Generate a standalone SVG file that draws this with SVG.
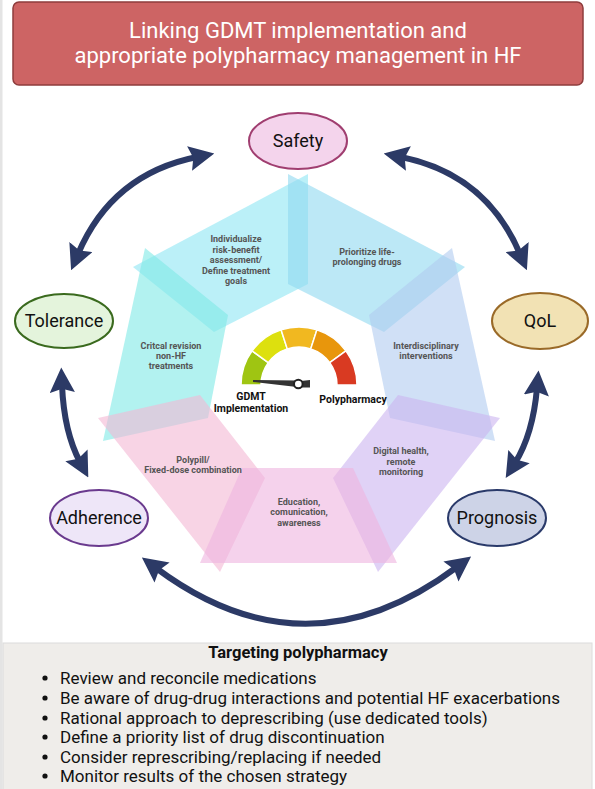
<svg xmlns="http://www.w3.org/2000/svg" width="595" height="789" viewBox="0 0 595 789">
<defs>
<marker id="ah" viewBox="0 0 10 10" refX="3" refY="5" markerWidth="4.2" markerHeight="4.2" orient="auto-start-reverse" markerUnits="strokeWidth">
<path d="M0,0 L10,5 L0,10 L1.5,5 z" fill="#2c3a66"/>
</marker>
</defs>
<style>
.seg{fill-opacity:0.6;stroke:none}
.lbl{font-family:Roboto,"Liberation Sans",sans-serif;font-weight:bold;font-size:9px;fill:#555;text-anchor:middle}
.node{stroke-width:2}
.ntxt{font-family:Roboto,"Liberation Sans",sans-serif;font-size:18px;fill:#111;text-anchor:middle}
.arr{fill:none;stroke:#2c3a66;stroke-width:6;marker-start:url(#ah);marker-end:url(#ah)}
.gl{font-family:Roboto,"Liberation Sans",sans-serif;font-weight:bold;font-size:10.5px;fill:#111;text-anchor:middle}
.bul{font-family:Roboto,"Liberation Sans",sans-serif;font-size:17px;fill:#111}
</style>
<rect x="0" y="0" width="595" height="789" fill="#ffffff"/>
<rect x="0" y="0" width="2.5" height="789" fill="#e4e4e4"/>

<g id="title">
<rect x="13" y="2" width="570" height="83" rx="6" fill="#cd6464" stroke="#8e3c3c" stroke-width="1.5"/>
<text x="298" y="38" font-family="Roboto,'Liberation Sans',sans-serif" font-size="22" fill="#ffffff" text-anchor="middle">Linking GDMT implementation and</text>
<text x="298" y="63" font-family="Roboto,'Liberation Sans',sans-serif" font-size="22" fill="#ffffff" text-anchor="middle">appropriate polypharmacy management in HF</text>
</g>

<g id="segments">
<polygon id="seg-individualize" class="seg" fill="#8ee6f4" points="133,267 308,174 308,284 214,332"/>
<polygon id="seg-prioritize" class="seg" fill="#90d8f0" points="288,174 465,267 384,332 288,284"/>
<polygon id="seg-critical" class="seg" fill="#7eeae6" points="145,248 228,315 208,418 103,441"/>
<polygon id="seg-interdisciplinary" class="seg" fill="#b0ccf0" points="452,248 369,315 390,418 495,441"/>
<polygon id="seg-polypill" class="seg" fill="#f4b8d4" points="98,418 200,395 265,478 220,572"/>
<polygon id="seg-digital" class="seg" fill="#ccb4f0" points="500,418 398,395 333,478 378,572"/>
<polygon id="seg-education" class="seg" fill="#eeb4e0" points="242,468 353,468 397,563 200,563"/>
<text class="lbl"><tspan x="236" y="242">Individualize</tspan><tspan x="236" y="253">risk-benefit</tspan><tspan x="236" y="263">assessment/</tspan><tspan x="236" y="274">Define treatment</tspan><tspan x="236" y="284">goals</tspan></text>
<text class="lbl"><tspan x="367" y="255">Prioritize life-</tspan><tspan x="367" y="265">prolonging drugs</tspan></text>
<text class="lbl"><tspan x="171" y="349">Critcal revision</tspan><tspan x="171" y="359">non-HF</tspan><tspan x="171" y="369">treatments</tspan></text>
<text class="lbl"><tspan x="426" y="349">Interdisciplinary</tspan><tspan x="426" y="359">interventions</tspan></text>
<text class="lbl"><tspan x="193" y="463">Polypill/</tspan><tspan x="193" y="473">Fixed-dose combination</tspan></text>
<text class="lbl"><tspan x="299" y="505">Education,</tspan><tspan x="299" y="515">comunication,</tspan><tspan x="299" y="526">awareness</tspan></text>
<text class="lbl"><tspan x="401" y="454">Digital health,</tspan><tspan x="401" y="465">remote</tspan><tspan x="401" y="475">monitoring</tspan></text>
</g>

<g id="gauge">
<g stroke="#ffffff" stroke-width="1.5">
<path d="M241,385 A58,58 0 0 1 252.08,350.90 L268.26,362.66 A38,38 0 0 0 261,385 Z" fill="#9fc512"/>
<path d="M252.08,350.90 A58,58 0 0 1 281.08,329.84 L287.26,348.86 A38,38 0 0 0 268.26,362.66 Z" fill="#dde00e"/>
<path d="M281.08,329.84 A58,58 0 0 1 316.92,329.84 L310.74,348.86 A38,38 0 0 0 287.26,348.86 Z" fill="#f1b820"/>
<path d="M316.92,329.84 A58,58 0 0 1 345.92,350.90 L329.74,362.66 A38,38 0 0 0 310.74,348.86 Z" fill="#e8960c"/>
<path d="M345.92,350.90 A58,58 0 0 1 357,385 L337,385 A38,38 0 0 0 329.74,362.66 Z" fill="#d93a22"/>
</g>
<polygon points="253,380 297,380.5 297,387 253,382" fill="#333"/>
<polygon points="301,381 310,380 310,387.5 301,387.5" fill="#333"/>
<circle cx="298.3" cy="384" r="4.3" fill="#ffffff" stroke="#222" stroke-width="2"/>
<text class="gl"><tspan x="251" y="400">GDMT</tspan><tspan x="251" y="412">Implementation</tspan></text>
<text class="gl" x="353" y="403">Polypharmacy</text>
</g>

<g id="connectors">
<path class="arr" d="M78,254 Q112,174 197,157"/>
<path class="arr" d="M520,254 Q486,174 401,157"/>
<path class="arr" d="M62,385 Q64,432 80,462"/>
<path class="arr" d="M537,388 Q533,434 515,463"/>
<path class="arr" d="M156,568 Q306,680 457,567"/>
</g>

<g id="safety">
<ellipse class="node" cx="298" cy="141" rx="49" ry="28" fill="#f4d4ec" stroke="#a03e70"/>
<text class="ntxt" x="298" y="147">Safety</text>
</g>
<g id="tolerance">
<ellipse class="node" cx="64" cy="321" rx="49" ry="27" fill="#e4f4dc" stroke="#3a6a1e"/>
<text class="ntxt" x="64" y="327">Tolerance</text>
</g>
<g id="qol">
<ellipse class="node" cx="540" cy="321" rx="48" ry="28" fill="#f2e2b4" stroke="#9a6a28"/>
<text class="ntxt" x="540" y="327">QoL</text>
</g>
<g id="adherence">
<ellipse class="node" cx="99" cy="518" rx="49" ry="28" fill="#eee6f8" stroke="#6a3a8e"/>
<text class="ntxt" x="99" y="524">Adherence</text>
</g>
<g id="prognosis">
<ellipse class="node" cx="497" cy="518" rx="49" ry="28" fill="#cdd3e7" stroke="#2a3a6a"/>
<text class="ntxt" x="497" y="524">Prognosis</text>
</g>

<g id="targeting">
<rect x="3" y="643" width="589" height="150" fill="#efedea" stroke="#dcdcdc" stroke-width="1"/>
<text x="298" y="658" font-family="Roboto,'Liberation Sans',sans-serif" font-size="16.5" font-weight="bold" fill="#111" text-anchor="middle">Targeting polypharmacy</text>
<g fill="#111">
<circle cx="45" cy="678" r="2.6"/>
<circle cx="45" cy="698" r="2.6"/>
<circle cx="45" cy="718" r="2.6"/>
<circle cx="45" cy="737" r="2.6"/>
<circle cx="45" cy="757" r="2.6"/>
<circle cx="45" cy="776" r="2.6"/>
</g>
<text class="bul" x="60" y="683.5">Review and reconcile medications</text>
<text class="bul" x="60" y="703.5">Be aware of drug-drug interactions and potential HF exacerbations</text>
<text class="bul" x="60" y="723.5">Rational approach to deprescribing (use dedicated tools)</text>
<text class="bul" x="60" y="742.5">Define a priority list of drug discontinuation</text>
<text class="bul" x="60" y="762.5">Consider represcribing/replacing if needed</text>
<text class="bul" x="60" y="781.5">Monitor results of the chosen strategy</text>
</g>
</svg>
